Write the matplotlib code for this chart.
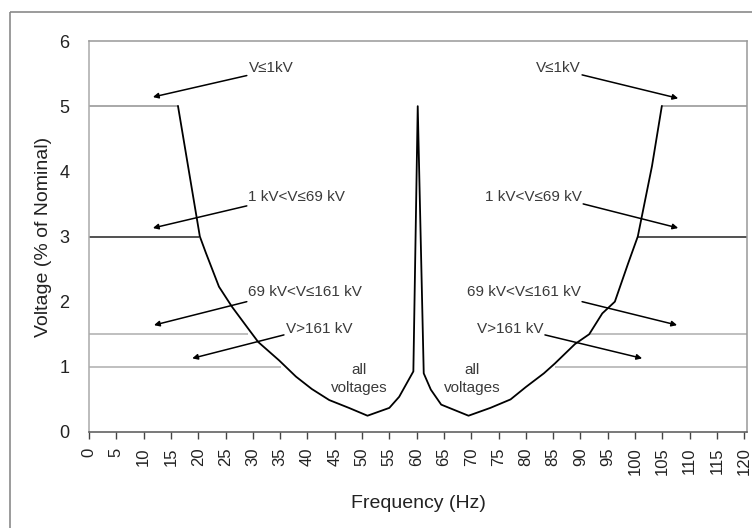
import matplotlib
matplotlib.use("Agg")
import matplotlib.pyplot as plt
from matplotlib.patches import Rectangle

plt.rcParams['font.family'] = ['Liberation Sans', 'DejaVu Sans']

# ---- data ----
freq = [16.3, 18.3, 20.3, 21.4, 23.8, 26.2, 29.3, 31.0, 34.8, 37.9, 40.8, 44.0,
        47.6, 51.0, 55.0, 56.8, 58.2, 59.4, 60.2, 61.3, 62.6, 64.5, 69.5, 73.5,
        77.2, 80.0, 83.3, 85.3, 89.0, 91.6, 94.0, 96.3, 98.7, 100.5, 103.1, 104.9]
volt = [5.0, 4.0, 3.0, 2.75, 2.23, 1.92, 1.57, 1.38, 1.1, 0.85, 0.66, 0.49,
        0.37, 0.25, 0.37, 0.54, 0.75, 0.93, 5.0, 0.9, 0.65, 0.42, 0.25, 0.37,
        0.5, 0.69, 0.9, 1.05, 1.35, 1.5, 1.82, 2.0, 2.58, 3.0, 4.08, 5.0]

lim_levels = [5, 3, 1.5, 1]
lim_left_end = [16.3, 20.2, 29.2, 35.2]
lim_right_start = [104.9, 100.5, 91.8, 85.3]
lim_colors = ['#9a9a9a', '#333333', '#b4b4b4', '#b4b4b4']

labels = ['V\u22641kV', '1 kV<V\u226469 kV', '69 kV<V\u2264161 kV', 'V>161 kV']
# arrow tail (text anchor) and head positions, left & right
left_tail = [(28.9, 5.47), (28.9, 3.47), (28.9, 2.0), (35.7, 1.49)]
left_head = [(11.7, 5.14), (11.7, 3.13), (11.9, 1.64), (18.9, 1.13)]
left_text_y = [5.58, 3.6, 2.15, 1.58]
right_tail = [(90.3, 5.48), (90.5, 3.5), (90.3, 2.0), (83.5, 1.49)]
right_head = [(107.9, 5.12), (107.9, 3.13), (107.7, 1.64), (101.3, 1.13)]
right_text_y = [5.58, 3.6, 2.15, 1.58]

all_label_x = [49.5, 70.1]
all_label_y = 0.81

xticks = list(range(0, 121, 5))
yticks = list(range(0, 7))

# ---- figure ----
fig = plt.figure(figsize=(7.52, 5.28), dpi=100)
fig.patches.append(Rectangle((10 / 752, 1 - 12 / 528), 1.2, -1.2,
                             transform=fig.transFigure, fill=False,
                             edgecolor='#8a8a8a', lw=1.2, figure=fig))
ax = fig.add_axes([89 / 752, 96 / 528, (747 - 89) / 752, (432 - 41) / 528])

for lev, le, rs, c in zip(lim_levels, lim_left_end, lim_right_start, lim_colors):
    ax.plot([0, le], [lev, lev], color=c, lw=1.2, solid_capstyle='butt', zorder=2)
    ax.plot([rs, 120.5], [lev, lev], color=c, lw=1.2, solid_capstyle='butt', zorder=2)

ax.plot(freq, volt, color='black', lw=1.3, zorder=3)

arrow_kw = dict(arrowstyle='-|>', color='black', lw=1.1, mutation_scale=8,
                shrinkA=0, shrinkB=0)
txt_color = '#3a3a3a'
for lab, t, h, ty in zip(labels, left_tail, left_head, left_text_y):
    ax.annotate('', xy=h, xytext=t, arrowprops=arrow_kw, zorder=4)
    ax.text(t[0] + 0.3, ty, lab, ha='left', va='center', fontsize=11, color=txt_color)
for lab, t, h, ty in zip(labels, right_tail, right_head, right_text_y):
    ax.annotate('', xy=h, xytext=t, arrowprops=arrow_kw, zorder=4)
    ax.text(t[0] - 0.3, ty, lab, ha='right', va='center', fontsize=11, color=txt_color)
for x in all_label_x:
    ax.text(x, all_label_y, 'all\nvoltages', ha='center', va='center',
            fontsize=11, color=txt_color, linespacing=1.4)

ax.set_xlim(0, 120.5)
ax.set_ylim(0, 6)
ax.set_xticks(xticks)
ax.set_xticklabels([str(v) for v in xticks], rotation=90, fontsize=12, color='#222222')
ax.set_yticks(yticks)
ax.set_yticklabels([str(v) for v in yticks], fontsize=13, color='#222222')
ax.tick_params(axis='x', direction='out', length=5, width=1, color='#444444', pad=6)
ax.tick_params(axis='y', length=0, pad=14)

for side in ['top', 'right']:
    ax.spines[side].set_color('#999999')
ax.spines['left'].set_color('#aaaaaa')
ax.spines['bottom'].set_color('#555555')
for s in ax.spines.values():
    s.set_linewidth(1.1)

ax.set_xlabel('Frequency (Hz)', fontsize=14, color='#222222', labelpad=14)
ax.set_ylabel('Voltage (% of Nominal)', fontsize=14, color='#222222', labelpad=5)

fig.savefig('out.png', dpi=100)
